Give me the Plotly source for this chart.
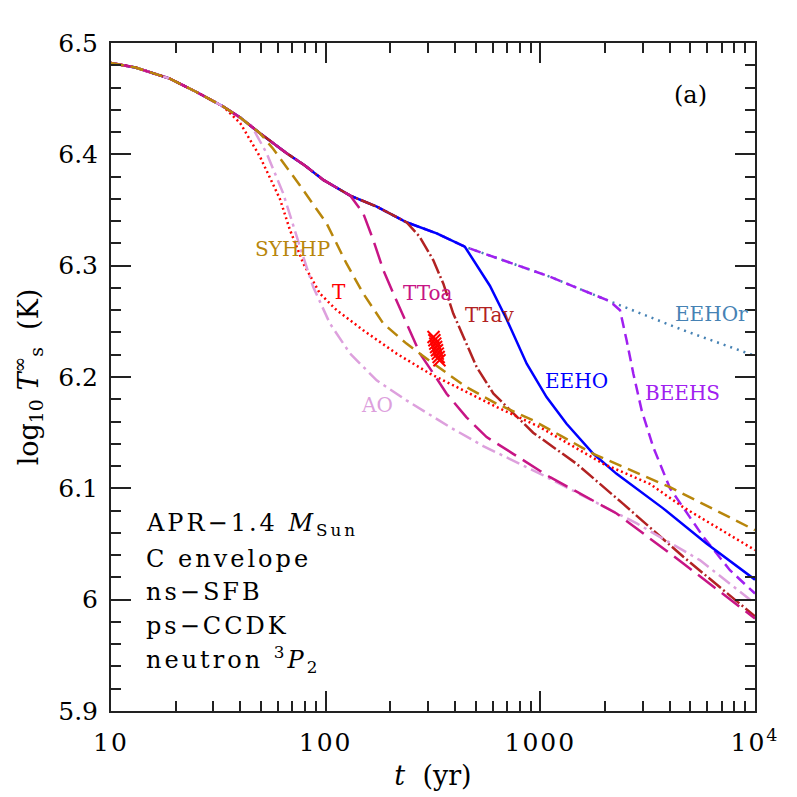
import plotly.graph_objects as go

# shared early cooling track (before the branches split)
t_common = [10, 13, 18.8, 25, 33.3, 40, 49.4, 57, 65.8, 80, 97.5, 130, 173, 238, 329, 445]
T_common = [6.482, 6.478, 6.468, 6.456, 6.443, 6.433, 6.419, 6.410, 6.401, 6.390, 6.377, 6.363,
            6.353, 6.339, 6.329, 6.317]

# branches: t and log10 Ts after leaving the common track
t_T = [40, 49.4, 61.2, 68.2, 78.7, 94, 112.5, 149.6, 214, 306, 438, 626, 995, 1966, 3236, 4635, 10000]
T_T = [6.428, 6.398, 6.360, 6.332, 6.302, 6.275, 6.260, 6.242, 6.221, 6.203, 6.188, 6.173, 6.155,
       6.122, 6.104, 6.083, 6.0445]

t_AO = [45, 53.1, 63.4, 75.9, 87.4, 104.7, 130, 172.8, 238, 379, 542, 1000, 2812, 5533, 10000]
T_AO = [6.426, 6.401, 6.365, 6.317, 6.281, 6.248, 6.221, 6.197, 6.179, 6.155, 6.138, 6.113, 6.0685,
        6.0355, 5.9966]

t_SYHHP = [56.9, 75.9, 101, 125, 149.6, 185.6, 238, 318, 452, 626, 926, 1279, 1765, 4018, 10000]
T_SYHHP = [6.405, 6.372, 6.338, 6.302, 6.275, 6.248, 6.230, 6.212, 6.191, 6.176, 6.161, 6.146,
           6.131, 6.101, 6.0624]

t_TToa = [149.6, 166.7, 185.6, 210, 238, 275, 318, 366, 452, 562, 747, 1110, 2266, 4635, 10000]
T_TToa = [6.347, 6.323, 6.296, 6.272, 6.248, 6.221, 6.203, 6.185, 6.164, 6.146, 6.131, 6.110,
          6.0774, 6.0325, 5.983]

t_TTav = [274, 317, 353, 393, 438, 505, 605, 749, 926, 1476, 2432, 4635, 10000]
T_TTav = [6.326, 6.305, 6.284, 6.257, 6.236, 6.209, 6.185, 6.167, 6.150, 6.122, 6.086, 6.0385, 5.985]

t_EEHO = [582, 700, 864, 1069, 1325, 1765, 2266, 3733, 5943, 10000]
T_EEHO = [6.282, 6.251, 6.212, 6.182, 6.158, 6.131, 6.113, 6.082, 6.0505, 6.018]

t_BEEHS = [1110, 2109, 2350, 2523, 2712, 2965, 3358, 4018, 5745, 7643, 10000]
T_BEEHS = [6.290, 6.268, 6.260, 6.233, 6.203, 6.170, 6.137, 6.100, 6.0564, 6.0265, 6.0055]

t_EEHOr = [1110, 2109, 4635, 10000]
T_EEHOr = [6.290, 6.268, 6.242, 6.219]

# Cas A observations
t_obs = [318, 321, 324, 327, 330, 333, 336, 339]
T_obs = [6.236, 6.233, 6.230, 6.227, 6.224, 6.221, 6.218, 6.215]

t_range = [10, 10000]
T_range = [5.9, 6.5]

x_labels = ["10", "100", "1000", "10<sup>4</sup>"]
y_labels = ["5.9", "6", "6.1", "6.2", "6.3", "6.4", "6.5"]

FONT = "DejaVu Serif"
INK = "#000000"


def track(t_branch, T_branch):
    # common part up to the first branch time, then the branch itself
    keep = [i for i, t in enumerate(t_common) if t < t_branch[0]]
    return ([t_common[i] for i in keep] + t_branch,
            [T_common[i] for i in keep] + T_branch)


def spaced(text, sp):
    return "<span style='letter-spacing:%spx'>%s</span>" % (sp, text)


# drawn bottom to top
curves = [
    ("EEHOr", t_EEHOr, T_EEHOr, "#4682b4", "2px,5px"),
    ("BEEHS", t_BEEHS, T_BEEHS, "#a020f0", "11px,6px"),
    ("EEHO", t_EEHO, T_EEHO, "#0000ff", "solid"),
    ("TTav", t_TTav, T_TTav, "#b22222", "16px,3px,2px,3px"),
    ("T", t_T, T_T, "#ff0000", "2px,3px"),
    ("AO", t_AO, T_AO, "#dda0dd", "14px,5px,3px,5px"),
    ("TToa", t_TToa, T_TToa, "#c71585", "22px,8px"),
    ("SYHHP", t_SYHHP, T_SYHHP, "#b8860b", "13px,7px"),
]

fig = go.Figure()
for name, tb, Tb, color, dash in curves:
    x, y = track(tb, Tb)
    fig.add_trace(go.Scatter(x=x, y=y, mode="lines", name=name,
                             line=dict(color=color, width=2.5, dash=dash)))

fig.add_trace(go.Scatter(x=t_obs, y=T_obs, mode="markers", name="obs",
                         marker=dict(symbol="x-thin", size=12, color="red",
                                     line=dict(color="red", width=2))))

# invisible trace so the top/right tick axes get drawn
fig.add_trace(go.Scatter(x=t_range, y=T_range, xaxis="x2", yaxis="y2", mode="markers",
                         marker=dict(opacity=0), hoverinfo="skip"))


# plot area in pixels: x 111..755, y 43..711
def px(xp):
    return (xp - 111) / 644


def py(yp):
    return (711 - yp) / 668


labels = [
    ("SYHHP", 292, 249, "#b8860b"),
    ("T", 339, 292, "#ff0000"),
    ("TToa", 428, 293, "#c71585"),
    ("TTav", 489, 315, "#b22222"),
    ("EEHO", 576, 381, "#0000ff"),
    ("BEEHS", 682, 393, "#a020f0"),
    ("EEHOr", 711, 314, "#4682b4"),
    ("AO", 377, 405, "#dda0dd"),
]
for text, xp, yp, color in labels:
    fig.add_annotation(x=px(xp), y=py(yp), xref="paper", yref="paper", text=text,
                       xanchor="center", yanchor="middle", showarrow=False,
                       font=dict(family=FONT, size=20, color=color))

fig.add_annotation(x=px(690), y=py(95), xref="paper", yref="paper", text="(a)",
                   xanchor="center", yanchor="middle", showarrow=False,
                   font=dict(family=FONT, size=24, color=INK))

box_lines = [
    ("APR\u22121.4 <i>M</i><sub>Sun</sub>", 524),
    ("C envelope", 559),
    ("ns\u2212SFB", 592),
    ("ps\u2212CCDK", 626),
    ("neutron <sup>3</sup><i>P</i><sub>2</sub>", 659),
]
for text, yp in box_lines:
    fig.add_annotation(x=px(144), y=py(yp), xref="paper", yref="paper",
                       text=spaced(text, 3),
                       xanchor="left", yanchor="middle", showarrow=False,
                       font=dict(family=FONT, size=24, color=INK))

minor_x = [m * d for d in (10, 100, 1000) for m in range(2, 10)]
x_major = [10, 100, 1000, 10000]
y_major = [5.9, 6.0, 6.1, 6.2, 6.3, 6.4, 6.5]

x_ticks = dict(type="log", range=[1, 4], tickvals=x_major,
               ticks="inside", ticklen=20, tickwidth=1.5, tickcolor="#222222",
               minor=dict(ticks="inside", ticklen=10, tickwidth=1.5, tickcolor="#222222",
                          tickvals=minor_x, showgrid=False),
               showgrid=False, zeroline=False)
y_ticks = dict(range=[5.9, 6.5], tickvals=y_major,
               ticks="inside", ticklen=20, tickwidth=1.5, tickcolor="#222222",
               minor=dict(ticks="inside", ticklen=10, tickwidth=1.5, tickcolor="#222222",
                          dtick=0.02, showgrid=False),
               showgrid=False, zeroline=False)

fig.update_layout(
    width=797, height=797,
    margin=dict(l=103, r=50, t=35, b=94),
    plot_bgcolor="white", paper_bgcolor="white",
    showlegend=False,
    font=dict(family=FONT, size=25, color=INK),
    xaxis=dict(
        **x_ticks,
        ticktext=[spaced(s, 2) for s in x_labels],
        showline=True, linewidth=2, linecolor="#222222", mirror=True,
        ticklabelstandoff=8,
        title=dict(text="<i>t</i>  (yr)", font=dict(size=27), standoff=10),
    ),
    yaxis=dict(
        **y_ticks,
        ticktext=y_labels,
        showline=True, linewidth=2, linecolor="#222222", mirror=True,
        ticklabelstandoff=6,
        title=dict(text="log<sub>10</sub> <i>T</i><sup>\u221e</sup><sub>s</sub>  (K)",
                   font=dict(size=27), standoff=12),
    ),
    # tick marks on the top and right edges
    xaxis2=dict(**x_ticks, overlaying="x", side="top", showticklabels=False, anchor="y2"),
    yaxis2=dict(**y_ticks, overlaying="y", side="right", showticklabels=False, anchor="x2"),
)

fig.write_html("out.html")
